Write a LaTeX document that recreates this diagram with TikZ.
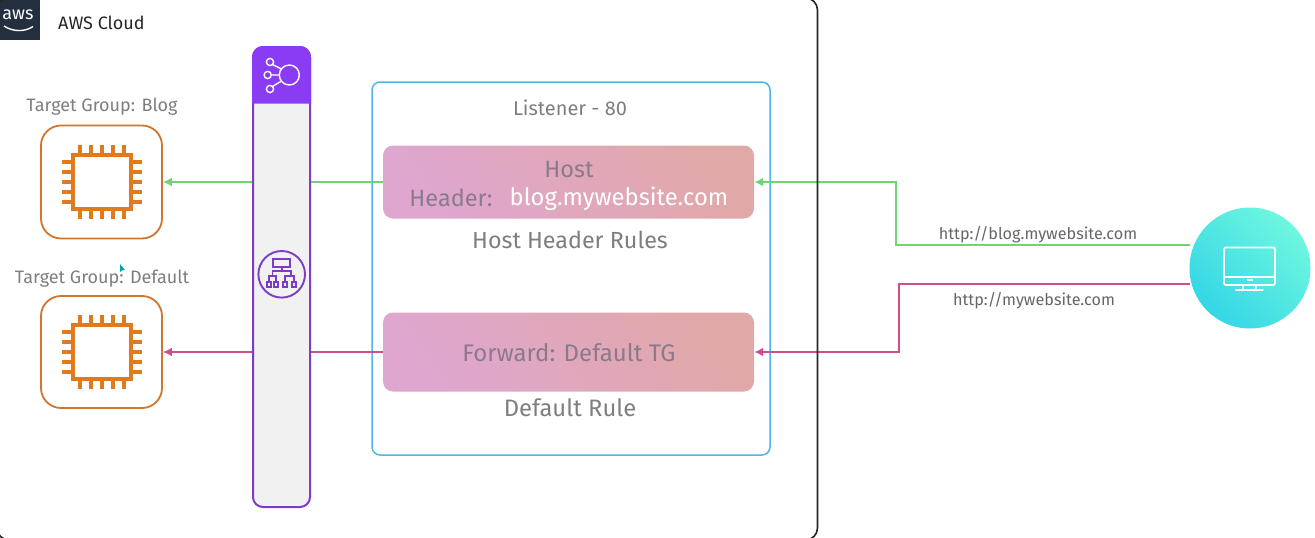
\documentclass[tikz,border=0pt]{standalone}
\usepackage{fontspec}
\setmainfont{Fira Sans}
\usetikzlibrary{arrows.meta,calc}
\definecolor{chipor}{HTML}{D0762F}
\definecolor{chipin}{HTML}{E07A1C}
\definecolor{lbpur}{HTML}{7D3CC8}
\definecolor{lbhead}{HTML}{8A3CF4}
\definecolor{lbfill}{HTML}{F1F1F2}
\definecolor{listblue}{HTML}{4FB5E6}
\definecolor{greenln}{HTML}{6FD474}
\definecolor{pinkln}{HTML}{CE4F8E}
\definecolor{txtgray}{HTML}{7E7E7E}
\definecolor{rulegray}{HTML}{8B7A8C}
\definecolor{awsdark}{HTML}{232F3E}
\definecolor{ruleA}{HTML}{DFA6CF}
\definecolor{ruleB}{HTML}{E1A8A8}
\definecolor{cyanA}{HTML}{34D6E6}
\definecolor{cyanB}{HTML}{6FF7DF}
\tikzset{
  targetbox/.style={draw=chipor,line width=1.8pt,rounded corners=20pt,minimum width=121pt,minimum height=113pt,inner sep=0pt,fill=white},
  rulebox/.style={rounded corners=10pt,minimum width=371pt,inner sep=0pt,left color=ruleA,right color=ruleB,shading angle=125},
  listbox/.style={draw=listblue,line width=1.5pt,rounded corners=8pt,minimum width=398pt,minimum height=373pt,inner sep=0pt},
  barbox/.style={draw=lbpur,line width=2pt,rounded corners=10pt,fill=lbfill,minimum width=57pt,minimum height=460pt,inner sep=0pt},
  label/.style={text=txtgray,inner sep=0pt,anchor=center},
  greenarr/.style={draw=greenln,line width=2pt,-{Latex[length=9pt,width=9pt]},line join=miter},
  pinkarr/.style={draw=pinkln,line width=2pt,-{Latex[length=9pt,width=9pt]},line join=miter},
  greenseg/.style={draw=greenln,line width=2pt},
  pinkseg/.style={draw=pinkln,line width=2pt},
  chipline/.style={draw=chipin,line width=3.6pt},
  pinline/.style={draw=chipin,line width=3.2pt},
  iconw/.style={draw=white,line width=1.4pt},
  iconp/.style={draw=lbpur,line width=1.9pt},
  monw/.style={draw=white,line width=1.8pt,line join=round,line cap=round}
}
\newcommand{\chipicon}[2]{%
  \draw[chipline] (#1-29,#2-27) rectangle (#1+29,#2+27);
  \foreach \d in {-22,-11,0,11,22}{
    \draw[pinline] (#1+\d,#2-37) -- (#1+\d,#2-27);
    \draw[pinline] (#1+\d,#2+27) -- (#1+\d,#2+37);
  }
  \foreach \d in {-20,-10,0,10,20}{
    \draw[pinline] (#1-40,#2+\d) -- (#1-29,#2+\d);
    \draw[pinline] (#1+29,#2+\d) -- (#1+40,#2+\d);
  }
}
\begin{document}
\begin{tikzpicture}[x=1pt,y=-1pt]
\useasboundingbox (0,0) rectangle (1315,538);
\clip (0,0) rectangle (1315,538);
% AWS badge
\fill[awsdark] (0,0) rectangle (40,40);
\node[text=white,font=\fontsize{18}{18}\selectfont,inner sep=0pt] (awsmark) at (18,14.5) {aws};
\draw[white,line width=1.4pt] (4,26) .. controls (13,32) and (25,32) .. (33,26.5);
\node[anchor=west,inner sep=0pt,text=black!85,font=\fontsize{18}{20}\selectfont] (cloud) at (58,23) {AWS Cloud};
% listener
\node[listbox] (listener) at (571,268.5) {};
\node[label,font=\fontsize{20}{22}\selectfont] (listenerlab) at (570,108) {Listener - 80};
\node[rulebox,minimum height=73pt] (rule1) at (568.5,182) {};
\node[rulebox,minimum height=79pt] (rule2) at (568.5,352) {};
\node[inner sep=0pt,text=rulegray,font=\fontsize{23.5}{25}\selectfont] (hosta) at (569,170) {Host};
\node[inner sep=0pt,text=rulegray,font=\fontsize{23.5}{25}\selectfont] (hostb) at (451,197.5) {Header:};
\node[inner sep=0pt,text=white,font=\fontsize{23.8}{25}\selectfont] (hostc) at (619,198.5) {blog.mywebsite.com};
\node[label,font=\fontsize{23.3}{25}\selectfont] (hhr) at (570,239.5) {Host Header Rules};
\node[inner sep=0pt,text=rulegray,font=\fontsize{24}{25}\selectfont] (fwd) at (569,353) {Forward: Default TG};
\node[label,font=\fontsize{23.8}{25}\selectfont] (drule) at (570,408) {Default Rule};
% targets
\node[targetbox] (t1) at (101.5,182) {};
\node[targetbox,minimum height=112pt] (t2) at (101.5,352) {};
\chipicon{102}{182}
\chipicon{102}{352}
\node[label,font=\fontsize{18}{20}\selectfont] (t1lab) at (102,106.5) {Target Group: Blog};
\node[label,font=\fontsize{18}{20}\selectfont] (t2lab) at (102,278.5) {Target Group: Default};
% cursor
\fill[teal!70!cyan] (120,264) -- (120,272) -- (122,270.5) -- (125,270) -- cycle;
% load balancer
\node[barbox] (bar) at (281.5,277) {};
\fill[lbhead] (252,103.5) -- (252,57) arc[start angle=180,end angle=270,radius=11] -- (300,46) arc[start angle=270,end angle=360,radius=11] -- (311,103.5) -- cycle;
\draw[iconw] (289.3,75) circle (10);
\draw[iconw] (270,62) circle (3.6) (267.7,75) circle (3.6) (270,89) circle (3.6);
\draw[iconw] (272.6,64.6) -- (281.5,69) (271.3,75) -- (279.3,75) (272.6,86.4) -- (281.5,81);
\draw[iconp] (281.7,274.3) circle (23.3);
\draw[iconp] (273.3,258.7) rectangle (289.7,267.3);
\draw[iconp] (281.7,267.3) -- (281.7,271) (272.5,276) -- (272.5,271) -- (291,271) -- (291,276);
\draw[iconp] (268.8,282) -- (268.8,276) -- (276.2,276) -- (276.2,282) (285.3,282) -- (285.3,276) -- (293.8,276) -- (293.8,282);
\draw[iconp] (266.7,282) rectangle (271,287) (274,282) rectangle (278.3,287) (283.3,282) rectangle (287.3,287) (291.7,282) rectangle (296,287);
% client
\node[circle,minimum size=121pt,inner sep=0pt,left color=cyanA,right color=cyanB,shading angle=135] (client) at (1250,268) {};
\draw[monw,rounded corners=2pt] (1224,247.5) rectangle (1275,285);
\draw[monw] (1224,277.3) -- (1275,277.3);
\draw[white,line width=1.4pt] (1247,279.8) -- (1253,279.8);
\draw[monw] (1243,285) -- (1243,290) (1256,285) -- (1256,290) (1236,290) -- (1263,290);
% connectors
\coordinate (gstart) at (1189.5,245);
\coordinate (gv) at (896,245);
\coordinate (pstart) at (1189.5,284);
\coordinate (pv) at (899,284);
\draw[greenarr] (gstart) -- (gv) -- (gv |- rule1.east) -- (rule1.east);
\draw[pinkarr] (pstart) -- (pv) -- (pv |- rule2.east) -- (rule2.east);
\draw[greenseg] (rule1.west) -- (bar.east |- rule1.west);
\draw[pinkseg] (rule2.west) -- (bar.east |- rule2.west);
\draw[greenarr] (bar.west |- t1.east) -- (t1.east);
\draw[pinkarr] (bar.west |- t2.east) -- (t2.east);
\node[label,text=black!60,font=\fontsize{16.2}{18}\selectfont] (u1) at (1038,234.5) {http://blog.mywebsite.com};
\node[label,text=black!60,font=\fontsize{16.2}{18}\selectfont] (u2) at (1034,300.5) {http://mywebsite.com};
% frame
\draw[black!85,line width=1.6pt,rounded corners=12pt] (-3,-2) rectangle (817.5,540);
\end{tikzpicture}
\end{document}
